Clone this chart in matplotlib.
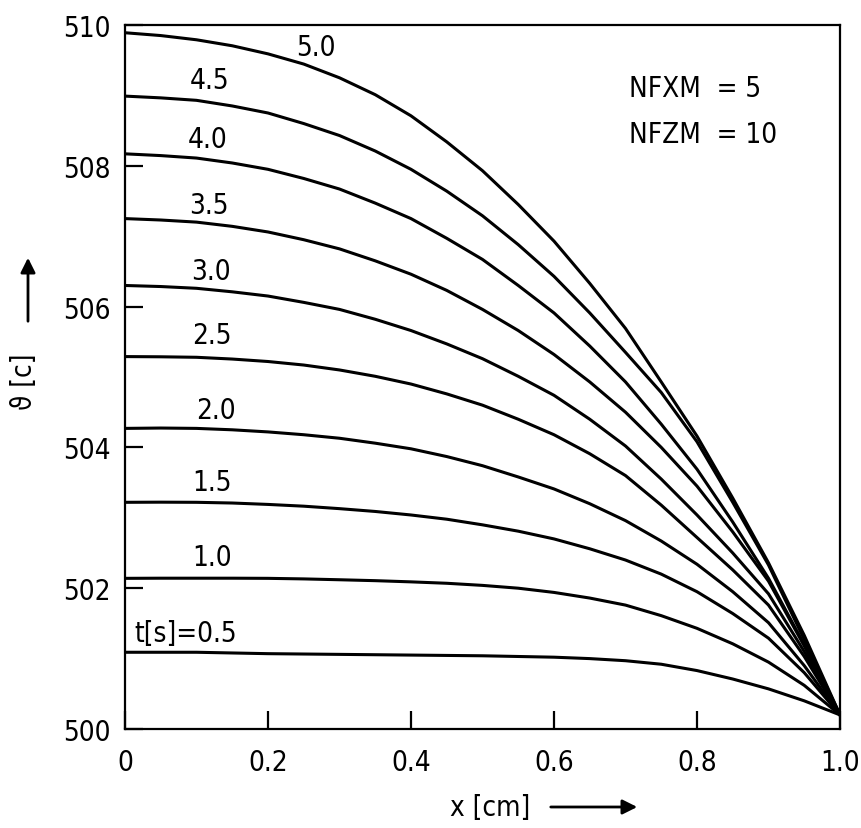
import matplotlib
matplotlib.use("Agg")
import matplotlib.pyplot as plt

plt.rcParams['font.family'] = ['Liberation Sans Narrow', 'DejaVu Sans']
plt.rcParams['font.stretch'] = 'condensed'

# positions along the plate (cm)
x_cm = [0.0, 0.05, 0.1, 0.15, 0.2, 0.25, 0.3, 0.35, 0.4, 0.45, 0.5,
        0.55, 0.6, 0.65, 0.7, 0.75, 0.8, 0.85, 0.9, 0.95, 1.0]

# temperature profiles for each time step t [s]
theta_t05 = [501.09, 501.09, 501.09, 501.08, 501.07, 501.065, 501.06, 501.055, 501.05, 501.045, 501.04,
             501.03, 501.02, 501.00, 500.97, 500.92, 500.83, 500.71, 500.57, 500.40, 500.20]
theta_t10 = [502.14, 502.142, 502.142, 502.142, 502.14, 502.132, 502.12, 502.107, 502.09, 502.07, 502.04,
             502.00, 501.94, 501.86, 501.76, 501.61, 501.43, 501.21, 500.95, 500.62, 500.20]
theta_t15 = [503.22, 503.222, 503.22, 503.21, 503.19, 503.165, 503.13, 503.09, 503.04, 502.98, 502.90,
             502.81, 502.70, 502.56, 502.40, 502.20, 501.95, 501.64, 501.29, 500.80, 500.20]
theta_t20 = [504.27, 504.275, 504.27, 504.25, 504.22, 504.18, 504.13, 504.06, 503.98, 503.87, 503.74,
             503.58, 503.41, 503.20, 502.96, 502.67, 502.34, 501.95, 501.51, 500.90, 500.20]
theta_t25 = [505.29, 505.287, 505.28, 505.255, 505.22, 505.17, 505.10, 505.01, 504.90, 504.76, 504.60,
             504.40, 504.18, 503.91, 503.60, 503.18, 502.72, 502.26, 501.76, 501.03, 500.20]
theta_t30 = [506.30, 506.285, 506.26, 506.21, 506.15, 506.06, 505.96, 505.82, 505.66, 505.47, 505.26,
             505.01, 504.74, 504.40, 504.02, 503.55, 503.04, 502.50, 501.92, 501.10, 500.20]
theta_t35 = [507.25, 507.23, 507.20, 507.14, 507.06, 506.95, 506.82, 506.65, 506.46, 506.23, 505.96,
             505.66, 505.32, 504.93, 504.50, 504.00, 503.45, 502.80, 502.10, 501.18, 500.20]
theta_t40 = [508.17, 508.145, 508.11, 508.04, 507.95, 507.82, 507.67, 507.47, 507.25, 506.97, 506.67,
             506.30, 505.91, 505.44, 504.93, 504.33, 503.69, 502.94, 502.14, 501.20, 500.20]
theta_t45 = [508.99, 508.965, 508.93, 508.85, 508.75, 508.60, 508.43, 508.21, 507.95, 507.64, 507.29,
             506.88, 506.43, 505.91, 505.35, 504.78, 504.08, 503.22, 502.33, 501.27, 500.20]
theta_t50 = [509.89, 509.85, 509.79, 509.705, 509.59, 509.445, 509.25, 509.01, 508.71, 508.34, 507.93,
             507.45, 506.93, 506.33, 505.69, 504.93, 504.16, 503.28, 502.36, 501.33, 500.20]

profiles = [theta_t05, theta_t10, theta_t15, theta_t20, theta_t25,
            theta_t30, theta_t35, theta_t40, theta_t45, theta_t50]

curve_labels = ['t[s]=0.5', '1.0', '1.5', '2.0', '2.5', '3.0', '3.5', '4.0', '4.5', '5.0']
label_x = [0.013, 0.122, 0.122, 0.127, 0.122, 0.12, 0.118, 0.115, 0.118, 0.267]
label_y = [501.37, 502.44, 503.51, 504.53, 505.59, 506.51, 507.44, 508.38, 509.22, 509.69]

x_ticks = [0, 0.2, 0.4, 0.6, 0.8, 1.0]
x_tick_labels = ['0', '0.2', '0.4', '0.6', '0.8', '1.0']
y_ticks = [500, 502, 504, 506, 508, 510]

W, H = 861, 829
fig = plt.figure(figsize=(W / 100, H / 100), dpi=100)
ax = fig.add_axes([125 / W, 1 - 730 / H, 715 / W, 704 / H])

for prof in profiles:
    ax.plot(x_cm, prof, color='black', lw=2.2, solid_joinstyle='round')

for lab, lx, ly in zip(curve_labels, label_x, label_y):
    ha = 'left' if lab.startswith('t') else 'center'
    ax.text(lx, ly, lab, fontsize=20, ha=ha, va='center')

ax.text(0.705, 509.1, 'NFXM  = 5', fontsize=20, ha='left', va='center')
ax.text(0.705, 508.45, 'NFZM  = 10', fontsize=20, ha='left', va='center')

ax.set_xlim(0, 1.0)
ax.set_ylim(500, 510)
ax.set_xticks(x_ticks)
ax.set_xticklabels(x_tick_labels)
ax.set_yticks(y_ticks)
ax.tick_params(direction='in', length=13, width=1.6, labelsize=20, pad=10)
ax.tick_params(axis='x', pad=14)
for s in ax.spines.values():
    s.set_linewidth(1.6)

# axis titles with arrows
fig.text(490 / W, 1 - 808 / H, 'x [cm]', fontsize=20, ha='center', va='center')
ax.annotate('', xy=(640, H - 808), xytext=(548, H - 808), xycoords='figure pixels',
            textcoords='figure pixels',
            arrowprops=dict(arrowstyle='-|>', color='black', lw=2, mutation_scale=22))
fig.text(24 / W, 1 - 382 / H, 'ϑ [c]', fontsize=20, ha='center', va='center', rotation=90)
ax.annotate('', xy=(28, H - 256), xytext=(28, H - 325), xycoords='figure pixels',
            textcoords='figure pixels',
            arrowprops=dict(arrowstyle='-|>', color='black', lw=2, mutation_scale=22))

fig.savefig('out.png', dpi=100)
